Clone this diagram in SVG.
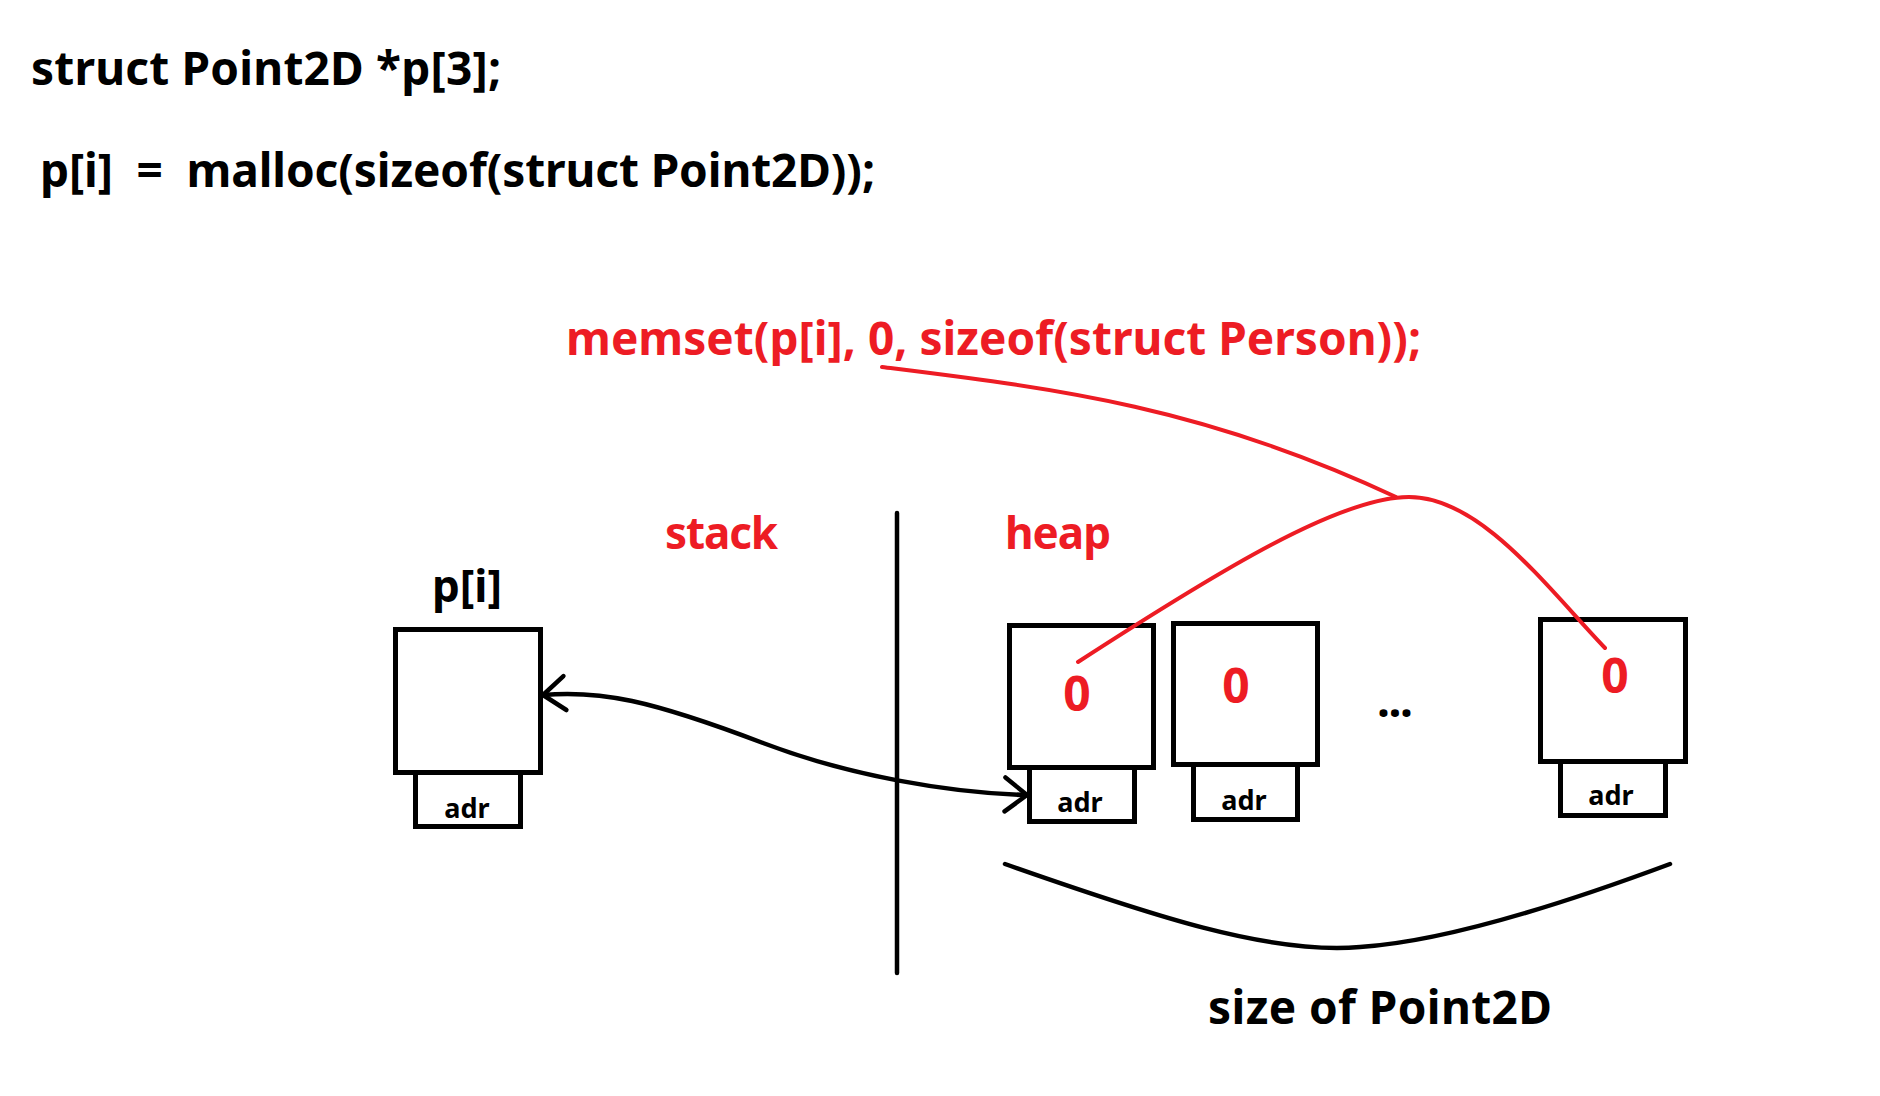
<svg xmlns="http://www.w3.org/2000/svg" width="1880" height="1096" viewBox="0 0 1880 1096">
  <style>
    .t { font-family: "Noto Sans", "Open Sans", "Liberation Sans", sans-serif; font-weight: 700; white-space: pre; }
    .code { font-size: 46px; fill: #000; }
    .red { fill: #ED1C24; }
    .lbl { font-size: 44px; }
    .zero { font-size: 48px; fill: #ED1C24; text-anchor: middle; }
    .adr { font-size: 27px; fill: #000; text-anchor: middle; }
    .box { fill: #fff; stroke: #000; stroke-width: 5; }
    .blk { fill: none; stroke: #000; stroke-width: 4.5; stroke-linecap: round; stroke-linejoin: round; }
    .rl { fill: none; stroke: #ED1C24; stroke-width: 4; stroke-linecap: round; }
  </style>
  <defs>
    <marker id="open" markerUnits="userSpaceOnUse" markerWidth="40" markerHeight="40" refX="0" refY="0" viewBox="-30 -20 34 40" orient="auto-start-reverse" overflow="visible">
      <path d="M-22,-17 L0,0 L-22,17" fill="none" stroke="#000" stroke-width="4.5" stroke-linecap="round" stroke-linejoin="round"/>
    </marker>
  </defs>
  <rect width="1880" height="1096" fill="#fff"/>

  <g id="code">
    <text class="t code" x="31" y="85" textLength="470">struct Point2D *p[3];</text>
    <text class="t code" x="40" y="187" textLength="835">p[i]  =  malloc(sizeof(struct Point2D));</text>
    <text class="t code red" x="566" y="355" textLength="855">memset(p[i], 0, sizeof(struct Person));</text>
  </g>

  <g id="divider">
    <line x1="897" y1="513" x2="897" y2="973" stroke="#000" stroke-width="4.5" stroke-linecap="round"/>
    <text class="t lbl red" x="665" y="549" textLength="113">stack</text>
    <text class="t lbl red" x="1005" y="549" textLength="106">heap</text>
  </g>

  <g id="pointer-p">
    <text class="t lbl" x="432" y="602" textLength="70">p[i]</text>
    <rect class="box" x="395.5" y="629.5" width="145" height="143"/>
    <rect class="box" x="415.5" y="772.5" width="105" height="54"/>
    <text class="t adr" x="467" y="818">adr</text>
  </g>

  <g id="heap-cell-1">
    <rect class="box" x="1009.5" y="625.5" width="144" height="142"/>
    <rect class="box" x="1029.5" y="767.5" width="105" height="54"/>
    <text class="t zero" x="1077" y="711">0</text>
    <text class="t adr" x="1080" y="812">adr</text>
  </g>

  <g id="heap-cell-2">
    <rect class="box" x="1173.5" y="623.5" width="144" height="141"/>
    <rect class="box" x="1193.5" y="764.5" width="104" height="55"/>
    <text class="t zero" x="1236" y="703">0</text>
    <text class="t adr" x="1244" y="810">adr</text>
  </g>

  <g id="ellipsis">
    <text class="t code" x="1377" y="717" textLength="36">...</text>
  </g>

  <g id="heap-cell-n">
    <rect class="box" x="1540.5" y="619.5" width="145" height="142"/>
    <rect class="box" x="1560.5" y="761.5" width="105" height="54"/>
    <text class="t zero" x="1615" y="693">0</text>
    <text class="t adr" x="1611" y="805">adr</text>
  </g>

  <g id="size-label">
    <text class="t code" x="1208" y="1024" textLength="344">size of Point2D</text>
  </g>

  <g id="connectors">
    <path class="blk" d="M543,695 C600,690 650,700 763,743 C850,776 950,793 1027,795" marker-start="url(#open)" marker-end="url(#open)"/>
    <path class="rl" d="M882,367 C1050,388 1200,405 1396,497"/>
    <path class="rl" d="M1078,662 C1220,570 1340,497 1409,497 C1480,497 1545,585 1605,648"/>
    <path class="blk" d="M1005,864 C1150,915 1270,955 1360,947 C1440,942 1560,905 1670,864"/>
  </g>
</svg>
